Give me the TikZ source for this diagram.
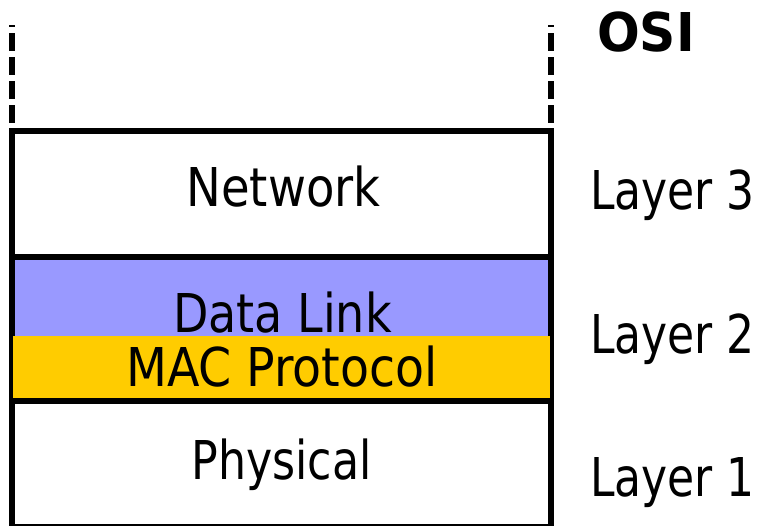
\documentclass[tikz,border=0pt]{standalone}
\usepackage{fontspec}
\setmainfont{DejaVu Sans Condensed}
\newfontfamily\osifont{DejaVu Sans}
\definecolor{dlpurple}{HTML}{9999FF}
\definecolor{macyellow}{HTML}{FFCC00}
\tikzset{
  lbl/.style={anchor=base, inner sep=0pt, font=\fontsize{53.5}{60}\selectfont},
  sidelbl/.style={anchor=base west, inner sep=0pt, font=\fontsize{53.5}{60}\selectfont},
  heavy/.style={line width=6pt},
  dashline/.style={line width=6pt, dash pattern=on 18pt off 6pt},
}
\begin{document}
\begin{tikzpicture}[x=1pt,y=-1pt]
\useasboundingbox (0,0) rectangle (764,526);
\begin{scope}
\clip (0,0) rectangle (764,526);
% purple data link band
\fill[dlpurple] (12,257) rectangle (551,336);
\node[lbl] (dl) at (282.5,333) {\scalebox{0.955}[1]{Data Link}};
% outline
\draw[heavy] (12,131) rectangle (551,527);
\draw[heavy] (12,257) -- (551,257);
% yellow MAC band
\fill[macyellow] (12.5,336) rectangle (550,401);
\draw[heavy] (12,401) -- (551,401);
\node[lbl] (mac) at (282,387) {\scalebox{0.985}[1]{MAC Protocol}};
\node[lbl] (net) at (283.5,207) {\scalebox{0.965}[1]{Network}};
\node[lbl] (phy) at (281.5,480) {\scalebox{0.92}[1]{Physical}};
% dashed extensions
\coordinate (lt) at (12,123);
\coordinate (ltop) at (12,25);
\coordinate (rt) at (551,123);
\coordinate (rtop) at (551,25);
\draw[dashline] (lt) -- (ltop);
\draw[dashline] (rt) -- (rtop);
% side labels
\node[sidelbl] (l3) at (590,210) {\scalebox{0.915}[1]{Layer 3}};
\node[sidelbl] (l2) at (590,354) {\scalebox{0.915}[1]{Layer 2}};
\node[sidelbl] (l1) at (590,497) {\scalebox{0.915}[1]{Layer 1}};
\node[sidelbl, font=\fontsize{53.5}{60}\osifont\bfseries] (osi) at (597,52) {\scalebox{0.94}[1]{OSI}};
\end{scope}
\end{tikzpicture}
\end{document}
